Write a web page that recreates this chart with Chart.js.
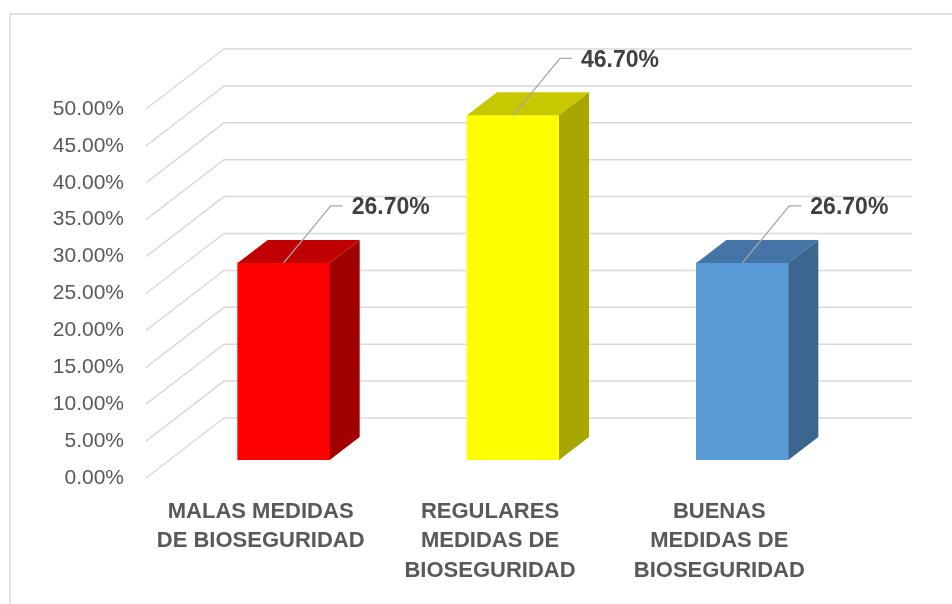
<!DOCTYPE html>
<html><head><meta charset="utf-8">
<script src="https://cdn.jsdelivr.net/npm/chart.js@4"></script>
<style>html,body{margin:0;padding:0;background:#fff}#wrap{width:952px;height:604px;position:relative}</style>
</head><body><div id="wrap"><canvas id="c" width="952" height="604"></canvas></div>
<script>
// ---- data ----
const categories = [
  ['MALAS MEDIDAS', 'DE BIOSEGURIDAD'],
  ['REGULARES', 'MEDIDAS DE', 'BIOSEGURIDAD'],
  ['BUENAS', 'MEDIDAS DE', 'BIOSEGURIDAD']
];
const values = [26.7, 46.7, 26.7];
const yTickValues = [0, 5, 10, 15, 20, 25, 30, 35, 40, 45, 50];

// ---- style ----
const FRONT = ['#FF0000', '#FFFF00', '#5B9BD5'];
const TOP = ['#C00000', '#C8C800', '#4475A6'];
const SIDE = ['#A00000', '#A6A600', '#3A6690'];
const WALL_DX = 78, WALL_DY = -60;      // depth of the back wall
const BAR_OFF_X = 23, BAR_OFF_Y = -18;  // bar front plane offset
const BAR_DX = 30, BAR_DY = -23;        // bar depth
const GRID = '#d9d9d9';
const FONT = '"Liberation Sans", Arial, sans-serif';

const fmt = v => v.toFixed(2) + '%';

const threeD = {
  id: 'threeD',
  beforeDraw(chart) {
    const ctx = chart.ctx;
    ctx.save();
    ctx.strokeStyle = GRID;
    ctx.lineWidth = 1.5;
    ctx.beginPath();
    ctx.moveTo(10, 604);
    ctx.lineTo(10, 14);
    ctx.lineTo(952, 14);
    ctx.stroke();
    ctx.restore();
  },
  beforeDatasetsDraw(chart) {
    const ctx = chart.ctx, ca = chart.chartArea, ys = chart.scales.y;
    ctx.save();
    ctx.strokeStyle = GRID;
    ctx.lineWidth = 1.5;
    yTickValues.forEach(v => {
      const y = ys.getPixelForValue(v);
      ctx.beginPath();
      ctx.moveTo(ca.left, y);
      ctx.lineTo(ca.left + WALL_DX, y + WALL_DY);
      ctx.lineTo(ca.right + WALL_DX, y + WALL_DY);
      ctx.stroke();
    });
    ctx.restore();
    ctx.save();
    ctx.translate(BAR_OFF_X, BAR_OFF_Y);
  },
  afterDatasetsDraw(chart) {
    const ctx = chart.ctx;
    ctx.restore();
    const meta = chart.getDatasetMeta(0);
    meta.data.forEach((bar, i) => {
      const p = bar.getProps(['x', 'y', 'base', 'width'], true);
      const l = p.x - p.width / 2 + BAR_OFF_X, r = p.x + p.width / 2 + BAR_OFF_X;
      const t = p.y + BAR_OFF_Y, b = p.base + BAR_OFF_Y;
      // top face
      ctx.fillStyle = TOP[i];
      ctx.beginPath();
      ctx.moveTo(l, t); ctx.lineTo(l + BAR_DX, t + BAR_DY);
      ctx.lineTo(r + BAR_DX, t + BAR_DY); ctx.lineTo(r, t); ctx.closePath();
      ctx.fill();
      // side face
      ctx.fillStyle = SIDE[i];
      ctx.beginPath();
      ctx.moveTo(r, t); ctx.lineTo(r + BAR_DX, t + BAR_DY);
      ctx.lineTo(r + BAR_DX, b + BAR_DY); ctx.lineTo(r, b); ctx.closePath();
      ctx.fill();
      // leader line + label
      const sx = p.x + BAR_OFF_X, sy = t;
      const cx = sx + 47, cy = sy - 57;
      ctx.strokeStyle = '#a6a6a6';
      ctx.lineWidth = 1.3;
      ctx.beginPath();
      ctx.moveTo(sx, sy); ctx.lineTo(cx, cy); ctx.lineTo(cx + 12, cy);
      ctx.stroke();
      ctx.fillStyle = '#404040';
      ctx.font = 'bold 23px ' + FONT;
      ctx.textAlign = 'left';
      ctx.textBaseline = 'middle';
      ctx.fillText(fmt(values[i]), cx + 21, cy + 2);
    });
  }
};

new Chart(document.getElementById('c'), {
  type: 'bar',
  data: {
    labels: categories,
    datasets: [{
      data: values,
      backgroundColor: FRONT,
      borderWidth: 0,
      barThickness: 92
    }]
  },
  options: {
    responsive: false,
    animation: false,
    devicePixelRatio: 1,
    layout: { padding: { left: 0, top: 109, right: 118, bottom: 0 } },
    plugins: { legend: { display: false }, tooltip: { enabled: false } },
    scales: {
      x: {
        grid: { display: false, drawTicks: false },
        border: { display: false },
        ticks: {
          color: '#595959',
          font: { family: FONT, size: 22, weight: 'bold', lineHeight: 1.34 },
          padding: 19,
          maxRotation: 0,
          autoSkip: false
        },
        afterFit(s) { s.height = 126; }
      },
      y: {
        min: 0, max: 50,
        grid: { display: false, drawTicks: false },
        border: { display: false },
        afterBuildTicks(s) { s.ticks = yTickValues.map(v => ({ value: v })); },
        ticks: {
          color: '#595959',
          font: { family: FONT, size: 21 },
          padding: 22,
          callback: v => fmt(v)
        },
        afterFit(s) { s.width = 146; }
      }
    }
  },
  plugins: [threeD]
});
</script>
</body></html>
